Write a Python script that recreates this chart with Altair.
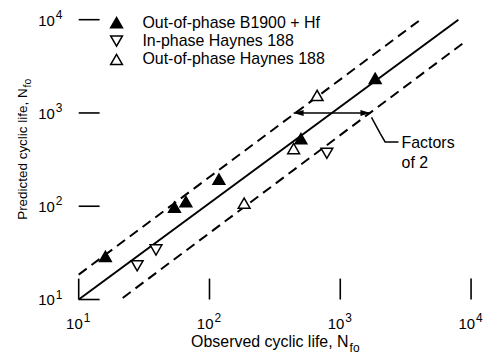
import altair as alt
import pandas as pd

FONT = "Liberation Sans"

# ---- data ----
series_names = ["Out-of-phase B1900 + Hf", "In-phase Haynes 188", "Out-of-phase Haynes 188"]
series_shapes = ["triangle-up", "triangle-down", "triangle-up"]
series_fills = ["black", "white", "white"]

b1900_obs = [16, 54, 66, 118, 500, 1850]
b1900_pred = [29, 98, 112, 195, 530, 2350]
inphase_obs = [28, 39, 790]
inphase_pred = [23, 34, 370]
outphase_obs = [184, 440, 665]
outphase_pred = [108, 415, 1540]

# reference lines (end points)
solid_obs = [10, 8000]
solid_pred = [10, 10000]
upper_obs = [10, 4100]
upper_pred = [18.5, 10000]
lower_obs = [21.7, 9230]
lower_pred = [10.4, 5960]

# "Factors of 2" annotation
arrow_obs = [440, 1700]
arrow_pred = [1000, 1000]
leader_obs = [1733, 2018, 2203, 2786]
leader_pred = [897, 605, 489, 489]
note_lines = ["Factors", "of 2"]
note_obs = [2940, 2940]
note_pred = [474, 290]

tick_values = [10, 100, 1000, 10000]
tick_exponents = ["1", "2", "3", "4"]

x_title = "Observed cyclic life, N"
y_title = "Predicted cyclic life, N"
title_sub = "fo"

# legend layout (pixel rows inside the plot)
legend_rows = [3, 21.5, 40]

# ---- tables ----
pts = pd.DataFrame({
    "obs": b1900_obs + inphase_obs + outphase_obs,
    "pred": b1900_pred + inphase_pred + outphase_pred,
    "series": [series_names[0]] * len(b1900_obs)
    + [series_names[1]] * len(inphase_obs)
    + [series_names[2]] * len(outphase_obs),
})
leg_df = pd.DataFrame({"series": series_names, "ly": legend_rows})
solid_df = pd.DataFrame({"obs": solid_obs, "pred": solid_pred})
upper_df = pd.DataFrame({"obs": upper_obs, "pred": upper_pred})
lower_df = pd.DataFrame({"obs": lower_obs, "pred": lower_pred})
arrow_df = pd.DataFrame({"obs": arrow_obs, "pred": arrow_pred})
leader_df = pd.DataFrame({"obs": leader_obs, "pred": leader_pred, "i": list(range(len(leader_obs)))})
note_df = pd.DataFrame({"obs": note_obs, "pred": note_pred, "label": note_lines})
ticks_df = pd.DataFrame({"v": tick_values, "e": tick_exponents})
one = pd.DataFrame({"a": [0]})

xscale = alt.Scale(type="log", domain=[10, 10000], nice=False)
yscale = alt.Scale(type="log", domain=[10, 10000], nice=False)
shape_scale = alt.Scale(domain=series_names, range=series_shapes)
fill_scale = alt.Scale(domain=series_names, range=series_fills)

axis_domain = alt.Axis(title=None, labels=False, ticks=False, grid=False, domain=True,
                       domainColor="black", domainWidth=1.6)

X = lambda f="obs": alt.X(f"{f}:Q", scale=xscale, axis=None)
Y = lambda f="pred": alt.Y(f"{f}:Q", scale=yscale, axis=None)

solid = alt.Chart(solid_df).mark_line(color="black", strokeWidth=2).encode(x=X(), y=Y())
upper = alt.Chart(upper_df).mark_line(color="black", strokeWidth=2, strokeDash=[10, 6]).encode(x=X(), y=Y())
lower = alt.Chart(lower_df).mark_line(color="black", strokeWidth=2, strokeDash=[10, 6]).encode(x=X(), y=Y())

points = alt.Chart(pts).mark_point(size=140, stroke="black", strokeWidth=1.5, opacity=1).encode(
    x=alt.X("obs:Q", scale=xscale, axis=axis_domain),
    y=alt.Y("pred:Q", scale=yscale, axis=axis_domain),
    shape=alt.Shape("series:N", scale=shape_scale, legend=None),
    fill=alt.Fill("series:N", scale=fill_scale, legend=None),
)

leg_sym = alt.Chart(leg_df).mark_point(size=140, stroke="black", strokeWidth=1.5, opacity=1).encode(
    x=alt.value(38),
    y=alt.Y("ly:Q", scale=None),
    shape=alt.Shape("series:N", scale=shape_scale, legend=None),
    fill=alt.Fill("series:N", scale=fill_scale, legend=None),
)
leg_txt = alt.Chart(leg_df).mark_text(align="left", baseline="middle", font=FONT, fontSize=16,
                                      color="black").encode(
    x=alt.value(64), y=alt.Y("ly:Q", scale=None), text="series:N")

shaft = alt.Chart(arrow_df).mark_line(color="black", strokeWidth=1.6).encode(x=X(), y=Y())
head_l = alt.Chart(arrow_df.iloc[[0]]).mark_point(shape="M0,0L1,-0.3L1,0.3Z", size=400, filled=True,
                                                  color="black", opacity=1).encode(x=X(), y=Y())
head_r = alt.Chart(arrow_df.iloc[[1]]).mark_point(shape="M0,0L-1,-0.3L-1,0.3Z", size=400, filled=True,
                                                  color="black", opacity=1).encode(x=X(), y=Y())
leader = alt.Chart(leader_df).mark_line(color="black", strokeWidth=1.5).encode(x=X(), y=Y(), order="i:Q")
note = alt.Chart(note_df).mark_text(align="left", baseline="middle", font=FONT, fontSize=16,
                                    color="black").encode(x=X(), y=Y(), text="label:N")

xticks = alt.Chart(ticks_df).mark_rule(color="black", strokeWidth=1.6).encode(
    x=alt.X("v:Q", scale=xscale, axis=None), y=alt.value(281), y2=alt.value(260))
yticks = alt.Chart(ticks_df).mark_rule(color="black", strokeWidth=1.6).encode(
    y=alt.Y("v:Q", scale=yscale, axis=None), x=alt.value(0), x2=alt.value(21))

xl10 = alt.Chart(ticks_df).mark_text(text="10", align="right", baseline="middle", font=FONT,
                                     fontSize=15, color="black", dx=4).encode(
    x=alt.X("v:Q", scale=xscale, axis=None), y=alt.value(306))
xlexp = alt.Chart(ticks_df).mark_text(align="left", baseline="middle", font=FONT,
                                      fontSize=12, color="black", dx=5).encode(
    x=alt.X("v:Q", scale=xscale, axis=None), y=alt.value(300), text="e:N")
yl10 = alt.Chart(ticks_df).mark_text(text="10", align="right", baseline="middle", font=FONT,
                                     fontSize=15, color="black", dy=1).encode(
    y=alt.Y("v:Q", scale=yscale, axis=None), x=alt.value(-24))
ylexp = alt.Chart(ticks_df).mark_text(align="left", baseline="middle", font=FONT,
                                      fontSize=12, color="black", dy=-5).encode(
    y=alt.Y("v:Q", scale=yscale, axis=None), x=alt.value(-23), text="e:N")

xt_main = alt.Chart(one).mark_text(text=x_title, align="right", baseline="middle", font=FONT,
                                   fontSize=16, color="black").encode(x=alt.value(271), y=alt.value(324))
xt_sub = alt.Chart(one).mark_text(text=title_sub, align="left", baseline="middle", font=FONT,
                                  fontSize=12, color="black").encode(x=alt.value(272), y=alt.value(330))
yt_main = alt.Chart(one).mark_text(text=y_title, align="right", baseline="middle", font=FONT,
                                   fontSize=13.5, angle=270, color="black").encode(x=alt.value(-56), y=alt.value(69))
yt_sub = alt.Chart(one).mark_text(text=title_sub, align="left", baseline="middle", font=FONT,
                                  fontSize=10.5, angle=270, color="black").encode(x=alt.value(-51), y=alt.value(68))

chart = alt.layer(
    solid, upper, lower, shaft, head_l, head_r, leader, note, points, leg_sym, leg_txt,
    xticks, yticks, xl10, xlexp, yl10, ylexp, xt_main, xt_sub, yt_main, yt_sub,
).properties(
    width=394, height=281,
    autosize=alt.AutoSizeParams(type="none"),
    padding={"left": 71, "top": 11, "right": 14, "bottom": 58},
    background="white",
).configure_view(stroke=None)

chart.save("out.html", embed_options={"renderer": "svg", "actions": False})
